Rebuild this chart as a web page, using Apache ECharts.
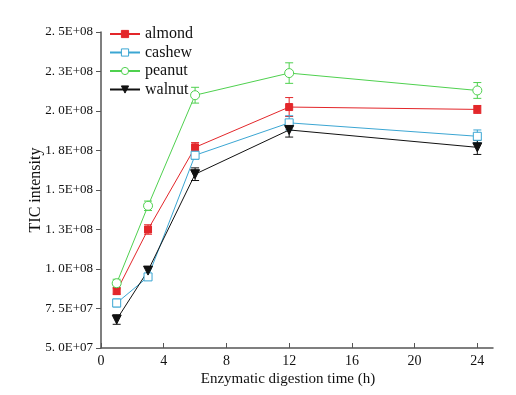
<!DOCTYPE html>
<html><head><meta charset="utf-8">
<script src="https://cdn.jsdelivr.net/npm/echarts@6/dist/echarts.min.js"></script>
<style>html,body{margin:0;padding:0;background:#fff}#c{width:516px;height:395px}</style>
</head><body><div id="c"></div>
<script>
const times = [1, 3, 6, 12, 24];
const almond = [8.6e7, 1.25e8, 1.77e8, 2.025e8, 2.01e8];
const almondErr = [2e6, 3e6, 3e6, 6e6, 2.5e6];
const cashew = [7.85e7, 9.5e7, 1.72e8, 1.925e8, 1.84e8];
const cashewErr = [2.5e6, 2e6, 2.5e6, 4.5e6, 4e6];
const peanut = [9.1e7, 1.4e8, 2.1e8, 2.24e8, 2.13e8];
const peanutErr = [2.5e6, 3e6, 5e6, 6.5e6, 5e6];
const walnut = [6.8e7, 9.9e7, 1.6e8, 1.88e8, 1.77e8];
const walnutErr = [3e6, 2e6, 4e6, 4.5e6, 4.5e6];
const xTicks = [0, 4, 8, 12, 16, 20, 24];
const yTicks = [5e7, 7.5e7, 1e8, 1.25e8, 1.5e8, 1.75e8, 2e8, 2.25e8, 2.5e8];
const yTickLabels = ['5. 0E+07','7. 5E+07','1. 0E+08','1. 3E+08','1. 5E+08','1. 8E+08','2. 0E+08','2. 3E+08','2. 5E+08'];

const FONT = 'Liberation Serif';
const defs = [
  {name:'almond', data:almond, err:almondErr, color:'#e3262a', symbol:'rect', fill:'#e3262a', size:7},
  {name:'cashew', data:cashew, err:cashewErr, color:'#3ba6d3', symbol:'rect', fill:'#ffffff', size:8},
  {name:'peanut', data:peanut, err:peanutErr, color:'#4fd14f', symbol:'circle', fill:'#ffffff', size:9},
  {name:'walnut', data:walnut, err:walnutErr, color:'#111111', symbol:'path://M0,0 L10,0 L5,9 Z', fill:'#111111', size:9}
];

const series = [];
defs.forEach(d => {
  series.push({
    name: d.name, type: 'line',
    data: times.map((t,i) => [t, d.data[i]]),
    symbol: d.symbol, symbolSize: d.size, showAllSymbol: true,
    lineStyle: {color: d.color, width: 1},
    itemStyle: {color: d.fill, borderColor: d.color, borderWidth: 1},
    z: 3
  });
  series.push({
    name: d.name + '_err', type: 'custom',
    data: times.map((t,i) => [t, d.data[i] - d.err[i], d.data[i] + d.err[i]]),
    renderItem: function(params, api) {
      const x = api.value(0);
      const lo = api.coord([x, api.value(1)]);
      const hi = api.coord([x, api.value(2)]);
      const cw = 4;
      const st = {stroke: d.color, lineWidth: 1, fill: null};
      return {type:'group', children:[
        {type:'line', shape:{x1:lo[0], y1:lo[1], x2:hi[0], y2:hi[1]}, style:st},
        {type:'line', shape:{x1:lo[0]-cw, y1:lo[1], x2:lo[0]+cw, y2:lo[1]}, style:st},
        {type:'line', shape:{x1:hi[0]-cw, y1:hi[1], x2:hi[0]+cw, y2:hi[1]}, style:st}
      ]};
    },
    z: 2, silent: true
  });
});

const chart = echarts.init(document.getElementById('c'), null, {renderer:'canvas'});
chart.setOption({
  animation: false,
  backgroundColor: '#ffffff',
  textStyle: {fontFamily: FONT},
  grid: {left: 101, top: 32, right: 23, bottom: 47, containLabel: false, outerBoundsMode: 'none'},
  legend: {
    data: defs.map(d => d.name),
    orient: 'vertical', left: 104, top: 21,
    itemWidth: 30, itemHeight: 9, itemGap: 2.5,
    textStyle: {fontFamily: FONT, fontSize: 16, lineHeight: 16, color: '#111'},
    itemStyle: {borderWidth: 1}
  },
  xAxis: {
    type: 'value', min: 0, max: 25,
    name: 'Enzymatic digestion time (h)', nameLocation: 'middle', nameGap: 24,
    nameMoveOverlap: false,
    nameTextStyle: {fontFamily: FONT, fontSize: 15, color: '#111', padding: [0, 18, 0, 0]},
    axisLine: {lineStyle: {color: '#555', width: 1.5}},
    axisTick: {inside: true, length: 5, customValues: xTicks, lineStyle: {color: '#555'}},
    axisLabel: {customValues: xTicks, fontFamily: FONT, fontSize: 14, color: '#111', margin: 6},
    splitLine: {show: false}
  },
  yAxis: {
    type: 'value', min: 5e7, max: 2.5e8, interval: 2.5e7,
    name: 'TIC intensity', nameLocation: 'middle', nameGap: 57, nameRotate: 90,
    nameMoveOverlap: false,
    nameTextStyle: {fontFamily: FONT, fontSize: 16, color: '#111'},
    axisLine: {show: true, lineStyle: {color: '#555', width: 1.5}},
    axisTick: {show: true, inside: false, length: 5, lineStyle: {color: '#555'}},
    axisLabel: {fontFamily: FONT, fontSize: 13, color: '#111', margin: 8,
      formatter: v => { const i = yTicks.findIndex(t => Math.abs(t - v) < 1); return i >= 0 ? yTickLabels[i] : ''; }},
    splitLine: {show: false}
  },
  series: series
});
</script></body></html>
